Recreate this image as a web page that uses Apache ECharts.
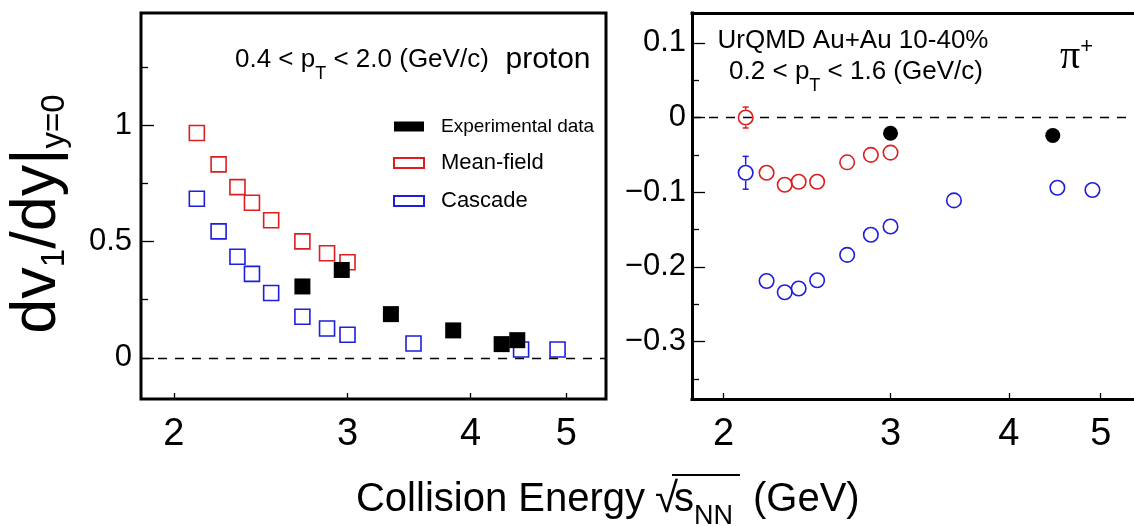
<!DOCTYPE html>
<html><head><meta charset="utf-8">
<script src="https://cdn.jsdelivr.net/npm/echarts@6/dist/echarts.min.js"></script>
<style>html,body{margin:0;padding:0;background:#fff}#c{width:1134px;height:526px}</style>
</head><body><div id="c"></div>
<script>
// ---------- Data: left panel (proton) ----------
const protonMeanFieldE = [2.11, 2.22, 2.32, 2.40, 2.51, 2.70, 2.86, 3.00];
const protonMeanFieldV = [0.967, 0.832, 0.734, 0.667, 0.592, 0.501, 0.450, 0.411];
const protonCascadeE = [2.11, 2.22, 2.32, 2.40, 2.51, 2.70, 2.86, 3.00, 3.50, 4.50, 4.90];
const protonCascadeV = [0.684, 0.544, 0.435, 0.361, 0.279, 0.177, 0.126, 0.099, 0.062, 0.036, 0.036];
const protonExpE = [2.70, 2.96, 3.32, 3.84, 4.30, 4.46];
const protonExpV = [0.307, 0.378, 0.188, 0.118, 0.059, 0.076];
// ---------- Data: right panel (pi+) ----------
const pionMeanFieldE = [2.11, 2.22, 2.32, 2.40, 2.51, 2.70, 2.86, 3.00];
const pionMeanFieldV = [0.000, -0.074, -0.090, -0.086, -0.086, -0.060, -0.050, -0.047];
const pionMeanFieldErr = [0.014, 0, 0, 0, 0, 0, 0, 0];
const pionCascadeE = [2.11, 2.22, 2.32, 2.40, 2.51, 2.70, 2.86, 3.00, 3.50, 4.50, 4.90];
const pionCascadeV = [-0.074, -0.219, -0.234, -0.229, -0.218, -0.184, -0.157, -0.146, -0.111, -0.094, -0.097];
const pionCascadeErr = [0.022, 0, 0, 0, 0, 0, 0, 0, 0, 0, 0];
const pionExpE = [3.00, 4.45];
const pionExpV = [-0.021, -0.024];
// ---------- Ticks ----------
const xTicks = [2, 3, 4, 5];
const protonYMajor = [0, 0.5, 1];
const protonYMinor = [0.25, 0.75, 1.25];
const pionYMajor = [-0.3, -0.2, -0.1, 0, 0.1];
const pionYMinor = [-0.35, -0.25, -0.15, -0.05, 0.05];
const legendNames = ['Experimental data', 'Mean-field', 'Cascade'];

const RED = '#dc1e1e', BLUE = '#1e1edc', FONT = '"Liberation Sans", Arial, Helvetica, sans-serif';
const X_MIN = 1.852, X_MAX = 5.487;

const pairs = (xs, ys) => xs.map((x, i) => [x, ys[i]]);
const triples = (xs, ys, es) => xs.map((x, i) => [x, ys[i], es[i]]).filter(d => d[2] > 0);
const fmt = v => v < 0 ? '\u2212' + Math.abs(v) : String(v);
const frameLine = { show: true, onZero: false, lineStyle: { color: '#000', width: 3, cap: 'square' } };
const noLine = { show: false, onZero: false };

function xAxis(gi, line) {
  return {
    gridIndex: gi, type: 'log', logBase: 10, min: X_MIN, max: X_MAX, position: 'bottom',
    axisLine: line ? frameLine : noLine,
    splitLine: { show: false }, minorTick: { show: false },
    axisTick: { inside: true, length: 6, customValues: xTicks, lineStyle: { color: '#000', width: 1.3 } },
    axisLabel: { customValues: xTicks, fontSize: 38, color: '#000', fontFamily: FONT, margin: 17 }
  };
}
function yAxes(gi, min, max, major, minor, margin, line) {
  return [{
    gridIndex: gi, type: 'value', min, max, position: 'left',
    axisLine: line ? frameLine : noLine, splitLine: { show: false },
    axisTick: { inside: true, length: 13, customValues: major, lineStyle: { color: '#000', width: 1.3 } },
    axisLabel: { customValues: major, fontSize: 31, color: '#000', fontFamily: FONT, margin, formatter: fmt }
  }, {
    gridIndex: gi, type: 'value', min, max, position: 'left',
    axisLine: noLine, splitLine: { show: false },
    axisTick: { inside: true, length: 7, customValues: minor, lineStyle: { color: '#000', width: 1.3 } },
    axisLabel: { show: false }
  }];
}
const zeroLine = {
  silent: true, symbol: 'none', label: { show: false },
  lineStyle: { type: [9, 8], color: '#000', width: 1.3 },
  data: [{ yAxis: 0 }]
};
function errorBars(data, color, xi, yi) {
  return {
    type: 'custom', xAxisIndex: xi, yAxisIndex: yi, silent: true, z: 3,
    data,
    renderItem: (params, api) => {
      const x = api.value(0), y = api.value(1), e = api.value(2);
      const c = api.coord([x, y]);
      const t = api.coord([x, y + e]);
      const b = api.coord([x, y - e]);
      const r = 8, cw = 3;
      const st = { stroke: color, lineWidth: 1.5 };
      return { type: 'group', children: [
        { type: 'line', shape: { x1: c[0], y1: c[1] - r, x2: t[0], y2: t[1] }, style: st },
        { type: 'line', shape: { x1: c[0], y1: c[1] + r, x2: b[0], y2: b[1] }, style: st },
        { type: 'line', shape: { x1: t[0] - cw, y1: t[1], x2: t[0] + cw, y2: t[1] }, style: st },
        { type: 'line', shape: { x1: b[0] - cw, y1: b[1], x2: b[0] + cw, y2: b[1] }, style: st }
      ]};
    }
  };
}
const txt = (x, y, text, size, extra) => ({ type: 'text', x, y, style: Object.assign({
  text, fontSize: size, fontFamily: FONT, fill: '#000', verticalAlign: 'middle', textVerticalAlign: 'middle'
}, extra || {}) });

const option = {
  animation: false,
  backgroundColor: '#fff',
  grid: [
    { left: 141, top: 13, width: 465, height: 386, show: true, borderColor: '#000', borderWidth: 3,
      backgroundColor: 'transparent', containLabel: false, outerBoundsMode: 'none' },
    { left: 692, top: 13, width: 447, height: 386, show: false,
      containLabel: false, outerBoundsMode: 'none' }
  ],
  xAxis: [
    xAxis(0, false),
    xAxis(1, true),
    // top edge of the right frame
    { gridIndex: 1, type: 'log', logBase: 10, min: X_MIN, max: X_MAX, position: 'top',
      axisLine: frameLine, axisTick: { show: false }, axisLabel: { show: false },
      splitLine: { show: false }, minorTick: { show: false } }
  ],
  yAxis: [
    ...yAxes(0, -0.177, 1.483, protonYMajor, protonYMinor, 9, false),
    ...yAxes(1, -0.377, 0.140, pionYMajor, pionYMinor, 6, true)
  ],
  legend: {
    left: 388, top: 112, orient: 'vertical', itemWidth: 30, itemHeight: 10, itemGap: 16,
    selectedMode: false,
    textStyle: { color: '#000', fontFamily: FONT, fontSize: 22, padding: [0, 0, 0, 12] },
    data: [
      { name: legendNames[0], icon: 'rect', textStyle: { fontSize: 19 } },
      { name: legendNames[1], icon: 'rect' },
      { name: legendNames[2], icon: 'rect' }
    ]
  },
  graphic: [
    { type: 'text', x: 235, y: 60, style: {
      text: '{a|0.4 < p}{s|T}{a| < 2.0 (GeV/c)}{b|  proton}',
      verticalAlign: 'middle', textVerticalAlign: 'middle', fill: '#000',
      rich: {
        a: { fontSize: 26, fontFamily: FONT, fill: '#000' },
        s: { fontSize: 18, fontFamily: FONT, fill: '#000', padding: [28, 0, 0, 0] },
        b: { fontSize: 30, fontFamily: FONT, fill: '#000' }
      } } },
    txt(853, 41, 'UrQMD Au+Au 10-40%', 26, { align: 'center', textAlign: 'center' }),
    { type: 'text', x: 856, y: 72, style: {
      text: '{a|0.2 < p}{s|T}{a| < 1.6 (GeV/c)}',
      align: 'center', textAlign: 'center', verticalAlign: 'middle', textVerticalAlign: 'middle', fill: '#000',
      rich: {
        a: { fontSize: 26, fontFamily: FONT, fill: '#000' },
        s: { fontSize: 18, fontFamily: FONT, fill: '#000', padding: [28, 0, 0, 0] }
      } } },
    { type: 'text', x: 1060, y: 57, style: {
      text: '{p|\u03c0}{u|+}',
      verticalAlign: 'middle', textVerticalAlign: 'middle', fill: '#000',
      rich: {
        p: { fontSize: 40, fontFamily: '"Liberation Serif", "Times New Roman", serif', fill: '#000' },
        u: { fontSize: 22, fontFamily: FONT, fill: '#000', padding: [0, 0, 20, 0] }
      } } },
    // x-axis title, pieces placed as in the reference
    txt(645, 500, 'Collision Energy', 40, { align: 'right', textAlign: 'right' }),
    txt(655, 500, '\u221a', 42, {}),
    { type: 'text', x: 674, y: 500, style: {
      text: '{a|s}{s|NN}',
      verticalAlign: 'middle', textVerticalAlign: 'middle', fill: '#000',
      rich: {
        a: { fontSize: 40, fontFamily: FONT, fill: '#000' },
        s: { fontSize: 27, fontFamily: FONT, fill: '#000', padding: [34, 0, 0, 0] }
      } } },
    { type: 'line', shape: { x1: 672, y1: 475, x2: 740, y2: 475 }, style: { stroke: '#000', lineWidth: 2 } },
    txt(753, 500, '(GeV)', 40, {}),
    { type: 'text', x: 38, y: 214, rotation: Math.PI / 2, style: {
      text: '{a|dv}{s|1}{a|/dy|}{s|y=0}',
      align: 'center', textAlign: 'center', verticalAlign: 'middle', textVerticalAlign: 'middle', fill: '#000',
      rich: {
        a: { fontSize: 63, fontFamily: FONT, fill: '#000' },
        s: { fontSize: 33, fontFamily: FONT, fill: '#000', padding: [34, 0, 0, 0] }
      } } }
  ],
  series: [
    { name: 'Mean-field', type: 'scatter', xAxisIndex: 0, yAxisIndex: 0, symbol: 'rect', symbolSize: 15, z: 2,
      itemStyle: { color: 'rgba(255,255,255,0)', borderColor: RED, borderWidth: 1.6, opacity: 1 },
      data: pairs(protonMeanFieldE, protonMeanFieldV), markLine: zeroLine },
    { name: 'Cascade', type: 'scatter', xAxisIndex: 0, yAxisIndex: 0, symbol: 'rect', symbolSize: 15, z: 2,
      itemStyle: { color: 'rgba(255,255,255,0)', borderColor: BLUE, borderWidth: 1.6, opacity: 1 },
      data: pairs(protonCascadeE, protonCascadeV) },
    { name: 'Experimental data', type: 'scatter', xAxisIndex: 0, yAxisIndex: 0, symbol: 'rect', symbolSize: 16, z: 4,
      itemStyle: { color: '#000', opacity: 1 },
      data: pairs(protonExpE, protonExpV) },
    { name: 'Mean-field', type: 'scatter', xAxisIndex: 1, yAxisIndex: 2, symbol: 'circle', symbolSize: 14.5, z: 2,
      itemStyle: { color: 'rgba(255,255,255,0)', borderColor: RED, borderWidth: 1.6, opacity: 1 },
      data: pairs(pionMeanFieldE, pionMeanFieldV), markLine: zeroLine },
    { name: 'Cascade', type: 'scatter', xAxisIndex: 1, yAxisIndex: 2, symbol: 'circle', symbolSize: 14.5, z: 2,
      itemStyle: { color: 'rgba(255,255,255,0)', borderColor: BLUE, borderWidth: 1.6, opacity: 1 },
      data: pairs(pionCascadeE, pionCascadeV) },
    { name: 'Experimental data', type: 'scatter', xAxisIndex: 1, yAxisIndex: 2, symbol: 'circle', symbolSize: 15, z: 4,
      itemStyle: { color: '#000', opacity: 1 },
      data: pairs(pionExpE, pionExpV) },
    errorBars(triples(pionMeanFieldE, pionMeanFieldV, pionMeanFieldErr), RED, 1, 2),
    errorBars(triples(pionCascadeE, pionCascadeV, pionCascadeErr), BLUE, 1, 2)
  ]
};
const chart = echarts.init(document.getElementById('c'), null, { renderer: 'canvas' });
chart.setOption(option);
</script></body></html>
